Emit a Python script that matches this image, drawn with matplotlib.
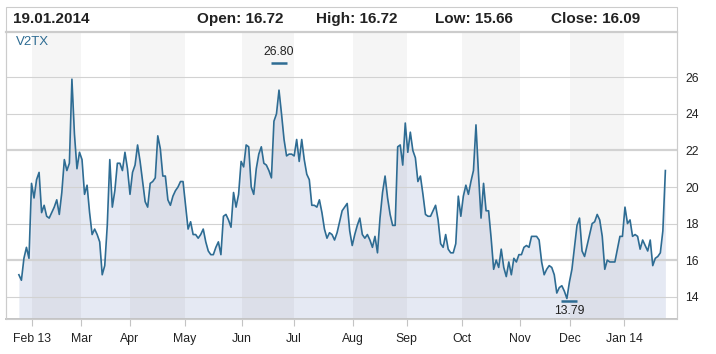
import matplotlib.pyplot as plt
import numpy as np
from matplotlib.patches import Rectangle

# V2TX closing values, one per trading day
values = [
    15.2, 14.9, 16.1, 16.7, 16.1, 20.2, 19.4, 20.4, 20.8, 18.6, 19.0, 18.4,
    18.3, 18.6, 18.9, 19.3, 18.5, 19.7, 21.5, 20.9, 21.3, 25.9, 22.9, 21.0,
    21.9, 21.5, 19.6, 20.1, 18.6, 17.4, 17.7, 17.4, 17.0, 15.2, 15.7, 17.9,
    21.5, 18.9, 19.8, 21.3, 21.3, 20.9, 21.9, 21.0, 19.6, 20.8, 21.2, 22.3,
    21.4, 20.3, 19.2, 18.9, 20.2, 20.3, 20.5, 22.8, 22.1, 20.6, 20.6, 19.3,
    19.0, 19.5, 19.8, 20.0, 20.3, 20.3, 19.0, 17.7, 18.1, 17.4, 17.4, 17.2,
    17.4,
    17.7, 17.0, 16.5, 16.3, 16.3, 16.7, 17.0, 16.3, 18.4, 18.5, 18.2, 17.8,
    19.7, 18.9, 19.6, 21.4, 21.1, 22.3, 22.2, 20.0, 19.6, 21.0, 21.8, 22.2,
    21.3, 21.2, 20.9, 20.5, 23.6, 24.0, 25.3, 24.0, 22.6, 21.7, 21.8, 21.8,
    21.7,
    22.6, 21.4, 22.6, 21.5, 20.7, 20.4, 19.0, 19.0, 18.9, 19.3, 18.6, 17.7,
    17.2, 17.5, 17.4, 17.1, 17.5, 18.1, 18.7, 18.9, 19.1, 17.6, 16.8, 17.4,
    17.9, 18.3, 17.4, 17.2, 17.4, 17.1, 16.7, 17.3, 16.4, 18.3, 19.7, 20.6,
    19.4, 18.5, 17.9, 17.9, 22.2, 22.3, 21.2, 23.5, 21.9, 23.0, 22.0, 21.6,
    20.3, 20.6, 19.6, 18.5, 18.4, 18.4, 18.7, 19.0, 18.2, 16.9, 16.7, 17.4,
    16.6, 16.4, 16.4, 16.9, 19.5, 18.4, 19.5, 20.1, 19.6, 20.3, 20.9, 23.4,
    20.7,
    18.3, 20.2, 18.7, 18.7, 17.2, 15.5, 16.0, 15.6, 16.6, 15.6, 15.1, 15.9,
    15.2, 16.1, 15.9, 16.3, 16.3, 16.7, 16.8, 16.7, 17.3, 17.3, 17.3, 17.1,
    15.9, 15.2, 15.5, 15.7, 15.6, 15.2, 14.2, 14.5, 14.6, 14.3, 13.9, 14.8,
    15.5, 16.7, 17.9, 18.3, 16.5, 16.2, 16.8, 17.4, 18.0, 18.1, 18.5, 18.2,
    17.3, 15.5, 16.0, 15.9, 15.9, 15.9, 16.6, 17.3, 17.3, 18.9, 18.0, 18.2,
    17.3, 17.4, 17.3, 16.6, 17.1, 16.8, 16.5, 17.1, 15.7, 16.1, 16.2, 16.4,
    17.6, 20.9,
]

# month starts, in trading-day index
month_pos = [5, 24.7, 44, 65.7, 88.2, 108.9, 132.2, 153.5, 175.3, 198.4, 218.2, 239.6]
month_labels = ['Feb 13', 'Mar', 'Apr', 'May', 'Jun', 'Jul', 'Aug', 'Sep', 'Oct', 'Nov', 'Dec', 'Jan 14']

y_ticks = [14, 16, 18, 20, 22, 24, 26]

header_date = '19.01.2014'
header_items = ['Open: 16.72', 'High: 16.72', 'Low: 15.66', 'Close: 16.09']

# period high/low (intraday) and the trading day they fell on
period_high = 26.80
high_day = 103
period_low = 13.79
low_day = 218

plt.rcParams['font.family'] = ['Liberation Sans', 'DejaVu Sans']

fig = plt.figure(figsize=(7.16, 3.54), dpi=100)
W, H = 716, 354
ax = fig.add_axes([6 / W, 35 / H, 671 / W, 287 / H])

x = np.arange(len(values))
bottom = 12.78

# area under the line
ax.fill_between(x, values, bottom, color='#e5e9f3', lw=0, zorder=1)

# alternating month bands
for i in range(0, len(month_pos) - 1, 2):
    ax.axvspan(month_pos[i], month_pos[i + 1], color='black', alpha=0.04, lw=0, zorder=2)

# horizontal grid
for t in y_ticks:
    lw = 1.6 if t in (16, 22) else 0.8
    ax.axhline(t, color='#d2d2d2', lw=lw, zorder=3)

ax.plot(x, values, color='#2e6c93', lw=1.2, zorder=4)

# high / low markers
ax.plot([high_day], [period_high], marker='_', ms=11, mew=1.8, color='#2e6c93', zorder=5)
ax.text(high_day, period_high + 0.25, '%.2f' % period_high, ha='center', va='bottom',
        fontsize=8.8, color='#222222', zorder=6)
ax.plot([low_day], [period_low], marker='_', ms=11, mew=1.8, color='#2e6c93', zorder=5)
ax.text(low_day, period_low - 0.25, '%.2f' % period_low, ha='center', va='top',
        fontsize=8.8, color='#222222', zorder=6)

ax.set_xlim(-5.1, 260.6)
ax.set_ylim(bottom, 28.48)

ax.set_xticks(month_pos)
ax.set_xticklabels(month_labels)
ax.set_yticks(y_ticks)
ax.yaxis.tick_right()
ax.tick_params(axis='x', length=5, color='#c4c4c4', labelsize=8.8, labelcolor='#222222', pad=5)
ax.tick_params(axis='y', length=0, labelsize=8.8, labelcolor='#222222', pad=6)

for side in ['left', 'right']:
    ax.spines[side].set_color('#cccccc')
    ax.spines[side].set_linewidth(0.8)
ax.spines['bottom'].set_color('#c4c4c4')
ax.spines['bottom'].set_linewidth(1.4)
ax.spines['top'].set_color('#cccccc')
ax.spines['top'].set_linewidth(1.6)

ax.text(10 / 671, 1 - 10 / 287, 'V2TX', transform=ax.transAxes, ha='left', va='center',
        fontsize=9.5, color='#2e6c93')

# header box
fig.patches.append(Rectangle((6 / W, 35 / H), 671 / W, 312 / H, transform=fig.transFigure,
                             fill=False, ec='#cccccc', lw=0.8))
hdr = ['Liberation Sans Narrow', 'Liberation Sans', 'DejaVu Sans']
fig.text(13 / W, 1 - 19 / H, header_date, ha='left', va='center', fontsize=11,
         fontweight='bold', family=hdr, color='#222222')
for xp, s in zip([197, 316, 435, 551], header_items):
    fig.text(xp / W, 1 - 19 / H, s, ha='left', va='center', fontsize=11,
             fontweight='bold', family=hdr, color='#222222')

plt.savefig('out.png', dpi=100)
